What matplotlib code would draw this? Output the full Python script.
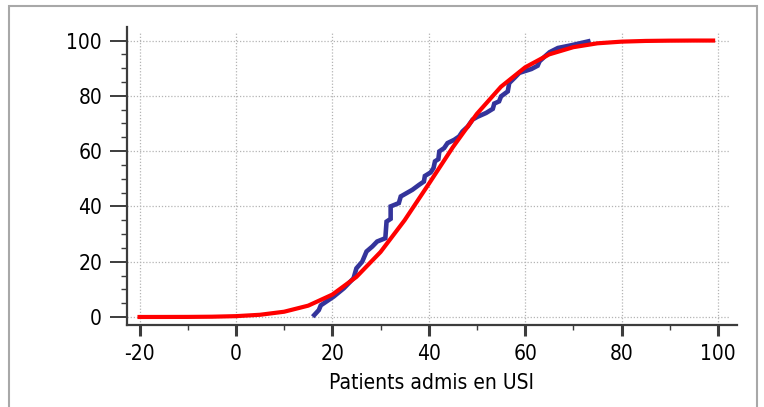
import matplotlib
matplotlib.use("Agg")
import matplotlib.pyplot as plt
from matplotlib.patches import Rectangle
from matplotlib.ticker import MultipleLocator, FixedLocator

# Fitted normal CDF
fit_x = [-20, -15, -10, -5, 0, 5, 10, 15, 20, 25, 30, 35, 40, 45, 50, 55, 60, 65, 70, 75, 80, 85, 90, 95, 99]
fit_y = [0.0, 0.01, 0.03, 0.1, 0.3, 0.8, 1.9, 4.1, 8.1, 14.5, 23.5, 35.0, 48.1, 61.4, 73.5, 83.3, 90.3, 95.0, 97.6, 99.0, 99.6, 99.86, 99.96, 100.0, 100.0]

emp_x = [16.25, 17.2, 17.6, 20.3, 22.4, 23.4, 24.4, 25.0, 26.2, 27.1, 28.3, 29.3, 31.0, 31.25,
         32.1, 32.1, 33.8, 34.2, 35.2, 36.6, 38.0, 39.0, 39.2, 40.4, 41.0, 41.3, 42.0, 42.2,
         43.2, 43.9, 45.3, 46.3, 47.0, 48.1, 49.1, 50.1, 51.9, 53.3, 53.6, 54.6, 55.0, 56.4,
         56.7, 57.8, 58.8, 61.3, 62.6, 63.0, 64.0, 65.1, 66.8, 69.6, 73.1]
emp_y = [0.7, 2.5, 4.2, 7.4, 10.4, 12.2, 14.0, 17.6, 20.0, 23.7, 25.5, 27.3, 28.5, 34.5,
         35.5, 40.0, 41.2, 43.6, 44.6, 46.0, 47.8, 49.0, 51.0, 52.3, 53.9, 56.3, 57.1, 59.9,
         61.1, 62.9, 64.1, 65.3, 67.1, 68.9, 71.4, 72.4, 73.8, 75.3, 77.2, 78.0, 79.8, 81.6,
         84.6, 86.5, 88.3, 89.7, 90.9, 92.5, 94.1, 95.8, 97.3, 98.3, 99.7]

x_ticks = [-20, 0, 20, 40, 60, 80, 100]
y_ticks = [0, 20, 40, 60, 80, 100]
x_label = "Patients admis en USI"

W, H = 764, 407
fig = plt.figure(figsize=(W / 100, H / 100), dpi=100)
left, right, bottom, top = 127, 736.7, 325, 27
ax = fig.add_axes([left / W, (H - bottom) / H, (right - left) / W, (bottom - top) / H])

xmin, xmax = -22.6, 103.9
ymin, ymax = -2.9, 104.9
ax.set_xlim(xmin, xmax)
ax.set_ylim(ymin, ymax)

grid_kw = dict(color="#b4b4b4", linewidth=0.9, linestyle=(0, (1, 1.5)), zorder=1)
ax.hlines(y_ticks, xmin, 102.3, **grid_kw)
ax.vlines(x_ticks, ymin, 103.0, **grid_kw)

ax.plot(emp_x, emp_y, color="#34349b", linewidth=3.3, solid_joinstyle="miter", zorder=3)
ax.plot(fit_x, fit_y, color="#ff0000", linewidth=3.0, zorder=4)

for s in ["top", "right"]:
    ax.spines[s].set_visible(False)
for s in ["left", "bottom"]:
    ax.spines[s].set_color("#3c3c3c")
    ax.spines[s].set_linewidth(1.6)

ax.xaxis.set_major_locator(FixedLocator(x_ticks))
ax.yaxis.set_major_locator(FixedLocator(y_ticks))
ax.xaxis.set_minor_locator(MultipleLocator(10))
ax.yaxis.set_minor_locator(MultipleLocator(5))
ax.tick_params(axis="x", which="major", length=8, width=2.2, color="#3c3c3c", pad=6)
ax.tick_params(axis="x", which="minor", length=3.5, width=1.0, color="#3c3c3c")
ax.tick_params(axis="y", which="major", length=12, width=1.4, color="#3c3c3c", pad=6)
ax.tick_params(axis="y", which="minor", length=4, width=1.0, color="#3c3c3c")

font = dict(family="DejaVu Sans", stretch="condensed", size=15)
ax.set_xticklabels([str(v) for v in x_ticks], fontdict=font)
ax.set_yticklabels([str(v) for v in y_ticks], fontdict=font)
ax.set_xlabel(x_label, fontdict=font, labelpad=6)

fig.patches.append(Rectangle((9 / W, -0.05), (757 - 9) / W, 1.05 - 5.5 / H,
                             transform=fig.transFigure, fill=False,
                             edgecolor="#a8a8a8", linewidth=1.5))

fig.savefig("out.png", dpi=100)
